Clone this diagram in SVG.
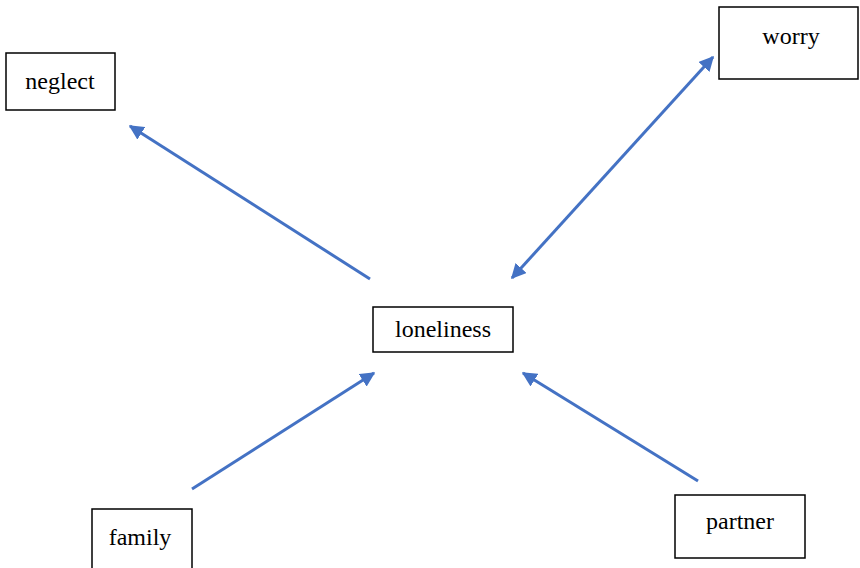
<svg xmlns="http://www.w3.org/2000/svg" width="860" height="568" viewBox="0 0 860 568">
<style>
.box{fill:#fff;stroke:#000;stroke-width:1.5}
.lbl{font-size:24px;fill:#000;text-anchor:middle}
.edge{stroke:#4472C4;stroke-width:3;fill:none}
</style>
<defs>
<marker id="ah" viewBox="0 0 10 10" refX="9" refY="5" markerWidth="5" markerHeight="5" orient="auto-start-reverse" markerUnits="strokeWidth">
<path d="M0,0 L10,5 L0,10 z" fill="#4472C4"/>
</marker>
</defs>
<rect width="860" height="568" fill="#fff"/>
<g id="connectors">
<line class="edge" x1="370" y1="279" x2="130" y2="126" marker-end="url(#ah)"/>
<line class="edge" x1="512" y1="278" x2="713" y2="57" marker-start="url(#ah)" marker-end="url(#ah)"/>
<line class="edge" x1="192" y1="489" x2="374" y2="373" marker-end="url(#ah)"/>
<line class="edge" x1="698" y1="481" x2="523" y2="373" marker-end="url(#ah)"/>
</g>
<g font-family="Liberation Serif, Times New Roman, serif">
<g id="neglect"><rect class="box" x="6" y="53" width="109" height="57"/><text class="lbl" x="60" y="89">neglect</text></g>
<g id="worry"><rect class="box" x="719" y="7" width="139" height="72"/><text class="lbl" x="791" y="44">worry</text></g>
<g id="loneliness"><rect class="box" x="373" y="307" width="140" height="45"/><text class="lbl" x="443" y="337">loneliness</text></g>
<g id="family"><rect class="box" x="92" y="509" width="100" height="70"/><text class="lbl" x="140" y="545">family</text></g>
<g id="partner"><rect class="box" x="675" y="495" width="130" height="63"/><text class="lbl" x="740" y="529">partner</text></g>
</g>
</svg>
